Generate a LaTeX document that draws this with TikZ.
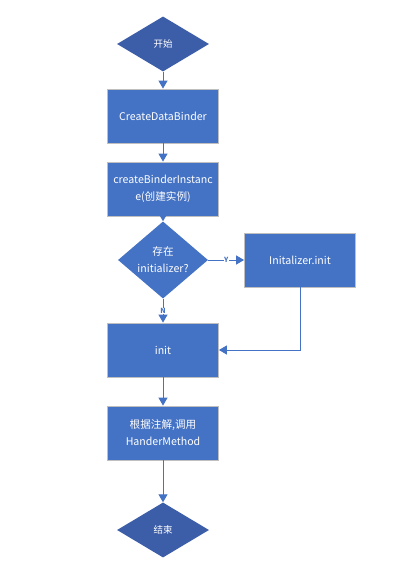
\documentclass[tikz,border=0pt]{standalone}
\usepackage{fontspec}
\setmainfont{Noto Sans CJK SC}
\usetikzlibrary{arrows.meta,shapes.geometric}
\definecolor{boxblue}{HTML}{4472C4}
\definecolor{darkblue}{HTML}{3C5DA8}
\definecolor{rim}{HTML}{BFBFBF}

\begin{document}
\begin{tikzpicture}[x=1pt,y=-1pt,
    procbox/.style={rectangle, fill=boxblue, draw=rim, line width=0.8pt,
      minimum width=111pt, minimum height=54pt, text width=110pt, align=center,
      text=white, font=\fontsize{10.6}{17}\selectfont, inner sep=0.5pt},
    termbox/.style={diamond, fill=darkblue, minimum width=92pt, minimum height=55pt,
      inner sep=0pt, text=white, font=\fontsize{9.5}{11}\selectfont},
    testbox/.style={diamond, fill=boxblue, minimum width=90pt, minimum height=66pt,
      inner sep=0pt, align=center, text=white, font=\fontsize{10.6}{17}\selectfont},
    flow/.style={draw=boxblue, line width=1pt, -{Triangle[length=8pt,width=9pt]}},
    tag/.style={fill=white, text=boxblue, inner sep=0.5pt, font=\bfseries\fontsize{7}{7}\selectfont}]
      \useasboundingbox (0,0) rectangle (406,577);
      \node[termbox] (start) at (163,44) {开始};
      \node[procbox] (binder) at (163,116) {CreateDataBinder};
      \node[procbox] (inst) at (163,189) {createBinderInstanc\\e(创建实例)};
      \node[testbox] (check) at (163,260) {存在\\initializer?};
      \node[procbox] (initr) at (300,260) {Initalizer.init};
      \node[procbox] (init) at (163,350) {init};
      \node[procbox] (call) at (163,433) {根据注解,调用\\HanderMethod};
      \node[termbox] (stop) at (163,530) {结束};
      \draw[flow] (start) -- (binder);
      \draw[flow] (binder) -- (inst);
      \draw[flow] (inst) -- (check);
      \draw[flow] (check) -- node[tag] {Y} (initr);
      \draw[flow] (check) -- node[tag, pos=0.5] {N} (init);
      \draw[flow] (initr.south) |- (init.east);
      \draw[flow] (init) -- (call);
      \draw[flow] (call) -- (stop);
\end{tikzpicture}
\end{document}
